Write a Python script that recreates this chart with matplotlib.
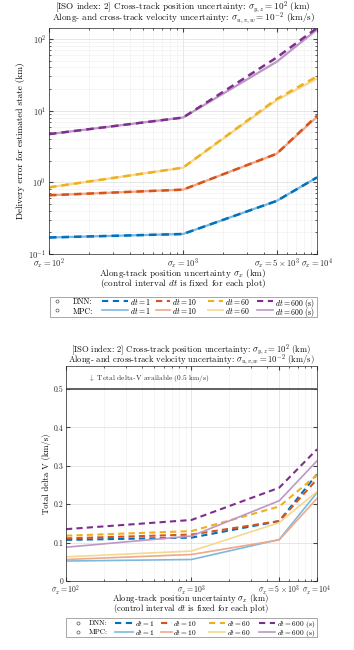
import matplotlib
matplotlib.use('Agg')
import matplotlib.pyplot as plt
from matplotlib.lines import Line2D
from matplotlib.patches import Rectangle
import numpy as np

plt.rcParams['font.family'] = ['cmr10', 'DejaVu Serif']
plt.rcParams['mathtext.fontset'] = 'cm'
plt.rcParams['axes.formatter.use_mathtext'] = True
plt.rcParams['font.size'] = 6

# along-track position uncertainty (km)
sigma_x = [100, 1000, 5000, 10000]
dts = [1, 10, 60, 600]

# delivery error (km): DNN / MPC
err_dnn = {1: [0.17, 0.19, 0.55, 1.17],
           10: [0.66, 0.79, 2.5, 8.5],
           60: [0.85, 1.6, 14.5, 30.0],
           600: [4.7, 8.0, 55.0, 142.0]}
err_mpc = {1: [0.17, 0.19, 0.55, 1.17],
           10: [0.66, 0.79, 2.5, 8.2],
           60: [0.85, 1.6, 14.0, 28.0],
           600: [4.7, 8.0, 48.0, 135.0]}

# total delta-V (km/s): DNN / MPC
dv_dnn = {1: [0.107, 0.113, 0.156, 0.278],
          10: [0.111, 0.121, 0.156, 0.265],
          60: [0.118, 0.130, 0.194, 0.276],
          600: [0.135, 0.159, 0.243, 0.343]}
dv_mpc = {1: [0.052, 0.056, 0.108, 0.230],
          10: [0.056, 0.069, 0.107, 0.215],
          60: [0.063, 0.078, 0.152, 0.233],
          600: [0.088, 0.117, 0.209, 0.313]}

dv_limit = 0.5

colors = {1: '#0072BD', 10: '#D95319', 60: '#EDB120', 600: '#7E2F8E'}
light = {1: '#7FB8DE', 10: '#ECA98C', 60: '#F6D88F', 600: '#BE97C6'}

title_lines = ['[ISO index: 2] Cross-track position uncertainty: $\\sigma_{y,z} = 10^2$ (km)',
               'Along- and cross-track velocity uncertainty: $\\sigma_{u,v,w} = 10^{-2}$ (km/s)']
xlabels = ['$\\sigma_x = 10^2$', '$\\sigma_x = 10^3$',
           '$\\sigma_x = 5\\times10^3$', '$\\sigma_x = 10^4$']
xlabel_lines = ['Along-track position uncertainty $\\sigma_x$ (km)',
                '(control interval $dt$ is fixed for each plot)']

W, H = 354, 650


def fx(px):
    return px / W


def fy(py):
    return 1 - py / H


def style_axes(ax, cx, title_y, xlab_y, fs, tick_fs):
    ax.set_xscale('log')
    ax.set_xlim(100, 10000)
    ax.set_xticks(sigma_x)
    ax.set_xticklabels(xlabels)
    ax.tick_params(which='both', direction='in', color='#444444',
                   labelcolor='#262626', labelsize=tick_fs, top=True, right=True)
    ax.tick_params(which='major', length=3, pad=2)
    ax.tick_params(which='minor', length=1.5)
    for s in ax.spines.values():
        s.set_color('#262626')
        s.set_linewidth(0.5)
    # two-line title / x label, placed by baseline in pixels
    for i, line in enumerate(title_lines):
        fig.text(fx(cx), fy(title_y[i]), line, ha='center', va='baseline',
                 fontsize=fs, color='#111111')
    for i, line in enumerate(xlabel_lines):
        fig.text(fx(cx), fy(xlab_y[i]), line, ha='center', va='baseline',
                 fontsize=fs, color='#111111')


def add_legend(box, rows, circ_x, name_x, cols, fs):
    # box: (x0, y0, x1, y1) in px; cols: list of (line_x0, line_x1, label_x)
    x0, y0, x1, y1 = box
    fig.patches.append(Rectangle((fx(x0), fy(y1)), fx(x1 - x0), (y1 - y0) / H,
                                 transform=fig.transFigure, fill=False,
                                 edgecolor='#999999', lw=0.6))
    for r, (name, style) in enumerate([('DNN:', 'dnn'), ('MPC:', 'mpc')]):
        y = rows[r]
        fig.lines.append(Line2D([fx(circ_x)], [fy(y)], transform=fig.transFigure,
                                ls='none', marker='o', mfc='none', mec='#555555',
                                ms=2.2, mew=0.5))
        fig.text(fx(name_x), fy(y), name, ha='left', va='center_baseline', fontsize=fs)
        for dt, (lx0, lx1, tx) in zip(dts, cols):
            if style == 'dnn':
                ln = Line2D([fx(lx0), fx(lx1)], [fy(y), fy(y)], transform=fig.transFigure,
                            color=colors[dt], lw=1.5, ls=(0, (3, 2.2)))
            else:
                ln = Line2D([fx(lx0), fx(lx1)], [fy(y), fy(y)], transform=fig.transFigure,
                            color=light[dt], lw=1.2)
            fig.lines.append(ln)
            lab = '$dt = %d$' % dt + (' (s)' if dt == 600 else '')
            fig.text(fx(tx), fy(y), lab, ha='left', va='center_baseline', fontsize=fs)


fig = plt.figure(figsize=(3.54, 6.5), dpi=100)

# top: delivery error
ax1 = fig.add_axes([fx(49), fy(254), fx(317 - 49), (254 - 28) / H])
for dt in dts:
    ax1.plot(sigma_x, err_mpc[dt], color=light[dt], lw=1.6)
    ax1.plot(sigma_x, err_dnn[dt], color=colors[dt], lw=1.8, ls=(0, (3, 2)))
ax1.set_yscale('log')
ax1.set_ylim(0.1, 142)
ax1.set_yticks([0.1, 1, 10, 100])
ax1.set_yticklabels(['$10^{-1}$', '$10^{0}$', '$10^{1}$', '$10^{2}$'])
style_axes(ax1, 183, [10, 21.5], [276, 286], 6.6, 6.2)
ax1.grid(True, which='major', color='#dddddd', lw=0.5)
ax1.grid(True, which='minor', color='#eeeeee', lw=0.4)
ax1.set_ylabel('Delivery error for estimated state (km)', fontsize=6.6, labelpad=2)
add_legend((50, 297, 317, 317), [301, 310.5], 57, 73,
           [(102, 128, 130), (156, 170, 172), (208, 223, 225), (257, 273, 275)], 5.6)

# bottom: total delta-V
ax2 = fig.add_axes([fx(66), fy(581), fx(317 - 66), (581 - 366) / H])
for dt in dts:
    ax2.plot(sigma_x, dv_mpc[dt], color=light[dt], lw=1.2)
    ax2.plot(sigma_x, dv_dnn[dt], color=colors[dt], lw=1.5, ls=(0, (3, 2)))
ax2.axhline(dv_limit, color='#555555', lw=1.3)
ax2.text(150, dv_limit + 0.014, '$\\downarrow$ Total delta-V available (0.5 km/s)',
         fontsize=5.3, color='#262626', va='bottom')
ax2.set_ylim(0, 0.56)
ax2.set_yticks([0, 0.1, 0.2, 0.3, 0.4, 0.5])
ax2.set_yticklabels(['0', '0.1', '0.2', '0.3', '0.4', '0.5'])
style_axes(ax2, 191, [352, 362.5], [601, 611], 6.2, 5.6)
ax2.grid(True, which='major', color='#dddddd', lw=0.5)
ax2.grid(True, which='minor', axis='x', color='#eeeeee', lw=0.4)
ax2.set_ylabel('Total delta V (km/s)', fontsize=6.2, labelpad=2)
add_legend((66, 618, 317, 637), [622.5, 631.5], 78, 89,
           [(115, 133, 135), (161, 172, 173), (209, 225, 227), (259, 275, 277)], 5.3)

fig.savefig('out.png', dpi=100)
